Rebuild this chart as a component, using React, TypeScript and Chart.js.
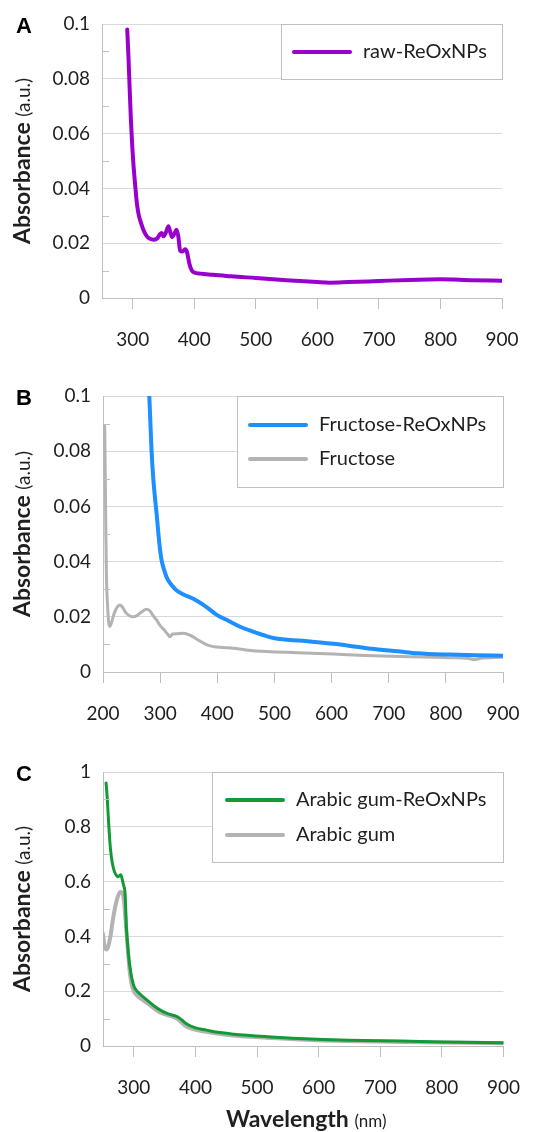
import React, { useEffect, useRef } from "react";
import { Chart, registerables } from "chart.js";
Chart.register(...registerables);

// ---------- Panel A: raw-ReOxNPs ----------
const rawWl = [291, 293, 295, 297, 299, 301, 304, 307, 310, 314, 318, 323, 328, 334, 340, 344, 347, 350, 354, 358, 361, 364, 368, 371, 374, 377, 381, 385, 388, 392, 396, 400, 410, 430, 460, 500, 550, 600, 620, 650, 700, 750, 800, 850, 900];
const rawAbs = [0.098, 0.088, 0.076, 0.065, 0.056, 0.049, 0.041, 0.034, 0.030, 0.027, 0.0245, 0.0225, 0.0216, 0.0213, 0.0218, 0.0232, 0.0237, 0.0225, 0.0240, 0.0262, 0.0240, 0.0222, 0.0236, 0.0249, 0.0225, 0.0172, 0.0170, 0.0178, 0.0168, 0.0125, 0.0100, 0.0093, 0.0089, 0.0085, 0.0079, 0.0073, 0.0065, 0.0058, 0.0056, 0.0058, 0.0062, 0.0066, 0.0068, 0.0065, 0.0063];

// ---------- Panel B: Fructose ----------
const fruNpWl = [281, 283, 285, 288, 291, 294, 297, 300, 303, 307, 312, 320, 329, 340, 358, 380, 399, 420, 440, 460, 480, 500, 550, 603, 630, 661, 690, 720, 749, 807, 850, 900];
const fruNpAbs = [0.100, 0.090, 0.080, 0.070, 0.063, 0.057, 0.050, 0.044, 0.040, 0.037, 0.034, 0.0315, 0.0295, 0.0282, 0.0265, 0.0237, 0.0207, 0.0185, 0.0164, 0.0148, 0.0134, 0.0122, 0.0113, 0.0102, 0.0095, 0.0086, 0.0080, 0.0074, 0.0068, 0.0063, 0.0061, 0.0059];
const fruWl = [203, 204, 205, 206, 208, 210, 212, 215, 220, 226, 230, 235, 240, 247, 253, 260, 268, 276, 282, 288, 294, 300, 306, 312, 317, 322, 330, 340, 352, 365, 380, 393, 410, 428, 450, 486, 540, 603, 660, 720, 760, 807, 840, 850, 860, 900];
const fruAbs = [0.089, 0.070, 0.050, 0.035, 0.024, 0.018, 0.0165, 0.018, 0.0215, 0.0238, 0.0243, 0.0232, 0.0215, 0.0203, 0.0200, 0.0205, 0.0218, 0.0227, 0.0222, 0.0203, 0.0188, 0.0168, 0.0155, 0.0140, 0.0128, 0.0138, 0.0139, 0.0140, 0.0134, 0.0118, 0.0100, 0.0092, 0.0089, 0.0086, 0.0080, 0.0074, 0.0070, 0.0065, 0.0060, 0.0056, 0.0054, 0.0052, 0.0049, 0.0045, 0.0049, 0.0053];

// ---------- Panel C: Arabic gum ----------
const gumNpWl = [255, 257, 259, 261, 263, 265, 268, 271, 274, 277, 279, 281, 283, 286, 288, 290, 292, 294, 297, 300, 302, 310, 321, 332, 343, 356, 370, 378, 386, 400, 418, 440, 462, 516, 597, 650, 733, 800, 900];
const gumNpAbs = [0.96, 0.90, 0.82, 0.75, 0.70, 0.67, 0.64, 0.625, 0.618, 0.622, 0.625, 0.61, 0.59, 0.55, 0.43, 0.37, 0.32, 0.285, 0.245, 0.22, 0.21, 0.19, 0.168, 0.148, 0.131, 0.117, 0.107, 0.095, 0.08, 0.066, 0.058, 0.049, 0.043, 0.034, 0.0245, 0.021, 0.018, 0.015, 0.012];
const gumWl = [250, 252, 255, 258, 262, 266, 270, 274, 278, 281, 284, 287, 290, 293, 296, 300, 305, 321, 343, 370, 386, 418, 462, 516, 597, 733, 900];
const gumAbs = [0.41, 0.37, 0.352, 0.36, 0.40, 0.46, 0.51, 0.545, 0.562, 0.56, 0.53, 0.45, 0.36, 0.28, 0.23, 0.20, 0.185, 0.158, 0.122, 0.10, 0.07, 0.052, 0.038, 0.030, 0.021, 0.015, 0.010];

// ---------- Ticks ----------
const xTicksA = [300, 400, 500, 600, 700, 800, 900];
const xTicksB = [200, 300, 400, 500, 600, 700, 800, 900];
const xTicksC = [300, 400, 500, 600, 700, 800, 900];
const yTicksAB = [0, 0.02, 0.04, 0.06, 0.08, 0.1];
const yMinorAB = [0.01, 0.03, 0.05, 0.07, 0.09];
const yTicksC = [0, 0.2, 0.4, 0.6, 0.8, 1];
const yMinorC = [0.1, 0.3, 0.5, 0.7, 0.9];

const FONT = 'Lato, "Open Sans", sans-serif';
const TEXT = "#1f1f1f";
const GRID = "#d9d9d9";
const AXIS = "#bfbfbf";

type Series = { label: string; wl: number[]; abs: number[]; color: string; width: number };
type PanelCfg = {
  letter: string;
  canvasTop: number;
  canvasH: number;
  top: number;
  bottom: number;
  left: number;
  right: number;
  xMin: number;
  xMax: number;
  xTicks: number[];
  yMax: number;
  yTicks: number[];
  yMinor: number[];
  series: Series[];
  legend: { x: number; h: number; row1: number; rowGap: number; sx: number };
  xTitle?: boolean;
};

const panels: PanelCfg[] = [
  {
    letter: "A", canvasTop: 0, canvasH: 362, top: 24, bottom: 298, left: 102, right: 502,
    xMin: 250, xMax: 900, xTicks: xTicksA, yMax: 0.1, yTicks: yTicksAB, yMinor: yMinorAB,
    series: [{ label: "raw-ReOxNPs", wl: rawWl, abs: rawAbs, color: "#9900cc", width: 4 }],
    legend: { x: 281, h: 55, row1: 28, rowGap: 34, sx: 13 },
  },
  {
    letter: "B", canvasTop: 370, canvasH: 362, top: 26, bottom: 302, left: 103, right: 503,
    xMin: 200, xMax: 900, xTicks: xTicksB, yMax: 0.1, yTicks: yTicksAB, yMinor: yMinorAB,
    series: [
      { label: "Fructose-ReOxNPs", wl: fruNpWl, abs: fruNpAbs, color: "#1e8fff", width: 4 },
      { label: "Fructose", wl: fruWl, abs: fruAbs, color: "#b3b3b3", width: 3 },
    ],
    legend: { x: 237, h: 91, row1: 29, rowGap: 34, sx: 13 },
  },
  {
    letter: "C", canvasTop: 740, canvasH: 392, top: 32, bottom: 306, left: 103, right: 504,
    xMin: 250, xMax: 900, xTicks: xTicksC, yMax: 1, yTicks: yTicksC, yMinor: yMinorC,
    series: [
      { label: "Arabic gum-ReOxNPs", wl: gumNpWl, abs: gumNpAbs, color: "#139a36", width: 3 },
      { label: "Arabic gum", wl: gumWl, abs: gumAbs, color: "#b3b3b3", width: 4 },
    ],
    legend: { x: 212, h: 90, row1: 28, rowGap: 35, sx: 15 },
    xTitle: true,
  },
];

function drawParts(ctx: CanvasRenderingContext2D, parts: { text: string; font: string }[], cx: number, y: number) {
  let total = 0;
  const widths = parts.map((p) => {
    ctx.font = p.font;
    const w = ctx.measureText(p.text).width;
    total += w;
    return w;
  });
  let x = cx - total / 2;
  ctx.textAlign = "left";
  ctx.textBaseline = "alphabetic";
  parts.forEach((p, i) => {
    ctx.font = p.font;
    ctx.fillText(p.text, x, y);
    x += widths[i];
  });
}

function makeConfig(cfg: PanelCfg): any {
  const decor = {
    id: "decor" + cfg.letter,
    afterDatasetsDraw(chart: any) {
      const ctx: CanvasRenderingContext2D = chart.ctx;
      const ca = chart.chartArea;
      const ys = chart.scales.y;
      ctx.save();
      // minor inside ticks
      ctx.strokeStyle = AXIS;
      ctx.lineWidth = 1;
      cfg.yMinor.forEach((v) => {
        const py = Math.round(ys.getPixelForValue(v)) + 0.5;
        ctx.beginPath();
        ctx.moveTo(ca.left, py);
        ctx.lineTo(ca.left + 7, py);
        ctx.stroke();
      });
      // legend box
      const lg = cfg.legend;
      const bx = lg.x + 0.5;
      const by = Math.round(ca.top) + 0.5;
      const bw = Math.round(ca.right) - lg.x;
      ctx.fillStyle = "#ffffff";
      ctx.fillRect(bx, by, bw, lg.h);
      ctx.strokeStyle = AXIS;
      ctx.strokeRect(bx, by, bw, lg.h);
      cfg.series.forEach((s, i) => {
        const ry = ca.top + lg.row1 + i * lg.rowGap;
        ctx.strokeStyle = s.color;
        ctx.lineWidth = 4;
        ctx.lineCap = "round";
        ctx.beginPath();
        ctx.moveTo(lg.x + lg.sx, ry);
        ctx.lineTo(lg.x + lg.sx + 56, ry);
        ctx.stroke();
        ctx.fillStyle = TEXT;
        ctx.font = `20px ${FONT}`;
        ctx.textAlign = "left";
        ctx.textBaseline = "middle";
        ctx.fillText(s.label, lg.x + lg.sx + 69, ry);
      });
      ctx.restore();
    },
    afterDraw(chart: any) {
      const ctx: CanvasRenderingContext2D = chart.ctx;
      const ca = chart.chartArea;
      ctx.save();
      ctx.fillStyle = "#000000";
      ctx.font = `bold 22px "Liberation Sans", Arial, sans-serif`;
      ctx.textAlign = "left";
      ctx.textBaseline = "alphabetic";
      ctx.fillText(cfg.letter, 16, ca.top + 8.5);
      // y title
      ctx.fillStyle = TEXT;
      ctx.save();
      ctx.translate(30, (ca.top + ca.bottom) / 2);
      ctx.rotate(-Math.PI / 2);
      drawParts(ctx, [
        { text: "Absorbance ", font: `bold 23px ${FONT}` },
        { text: "(a.u.)", font: `19px ${FONT}` },
      ], 0, 0);
      ctx.restore();
      if (cfg.xTitle) {
        drawParts(ctx, [
          { text: "Wavelength ", font: `bold 23px ${FONT}` },
          { text: "(nm)", font: `17px ${FONT}` },
        ], (ca.left + ca.right) / 2 + 3, 387);
      }
      ctx.restore();
    },
  };

  return {
    type: "line",
    data: {
      datasets: cfg.series.map((s) => ({
        label: s.label,
        data: s.wl.map((w, i) => ({ x: w, y: s.abs[i] })),
        borderColor: s.color,
        backgroundColor: s.color,
        borderWidth: s.width,
        pointRadius: 0,
        tension: 0.4,
        cubicInterpolationMode: "monotone",
        borderCapStyle: "round",
        borderJoinStyle: "round",
        fill: false,
      })),
    },
    options: {
      animation: false,
      responsive: false,
      devicePixelRatio: 1,
      layout: { padding: { top: cfg.top, right: 539 - cfg.right, left: 0, bottom: 0 } },
      plugins: { legend: { display: false }, tooltip: { enabled: false } },
      scales: {
        x: {
          type: "linear",
          min: cfg.xMin,
          max: cfg.xMax,
          afterBuildTicks: (ax: any) => {
            ax.ticks = cfg.xTicks.map((v) => ({ value: v }));
          },
          afterFit: (ax: any) => {
            ax.height = cfg.canvasH - cfg.bottom;
          },
          grid: { drawOnChartArea: false, drawTicks: true, tickLength: 11, color: AXIS, lineWidth: 1 },
          border: { display: true, color: AXIS, width: 1 },
          ticks: {
            padding: 19,
            color: TEXT,
            font: { family: FONT, size: 19 },
            maxRotation: 0,
            autoSkip: false,
            callback: (v: any) => String(v),
          },
        },
        y: {
          min: 0,
          max: cfg.yMax,
          afterBuildTicks: (ax: any) => {
            ax.ticks = cfg.yTicks.map((v) => ({ value: v }));
          },
          afterFit: (ax: any) => {
            ax.width = cfg.left;
          },
          grid: { color: GRID, drawTicks: false, lineWidth: 1 },
          border: { display: true, color: AXIS, width: 1 },
          ticks: {
            padding: 12,
            color: TEXT,
            font: { family: FONT, size: 19 },
            callback: (v: any) => String(v),
          },
        },
      },
    },
    plugins: [decor],
  };
}

function Panel({ cfg }: { cfg: PanelCfg }) {
  const ref = useRef<HTMLCanvasElement | null>(null);
  useEffect(() => {
    if (!ref.current) return;
    const chart = new Chart(ref.current, makeConfig(cfg));
    return () => chart.destroy();
  }, [cfg]);
  return (
    <canvas
      ref={ref}
      width={539}
      height={cfg.canvasH}
      style={{ position: "absolute", left: 0, top: cfg.canvasTop, width: 539, height: cfg.canvasH }}
    />
  );
}

export default function App() {
  return (
    <div style={{ position: "absolute", left: 0, top: 0, width: 539, height: 1132, background: "#ffffff", overflow: "hidden" }}>
      {panels.map((p) => (
        <Panel key={p.letter} cfg={p} />
      ))}
    </div>
  );
}
